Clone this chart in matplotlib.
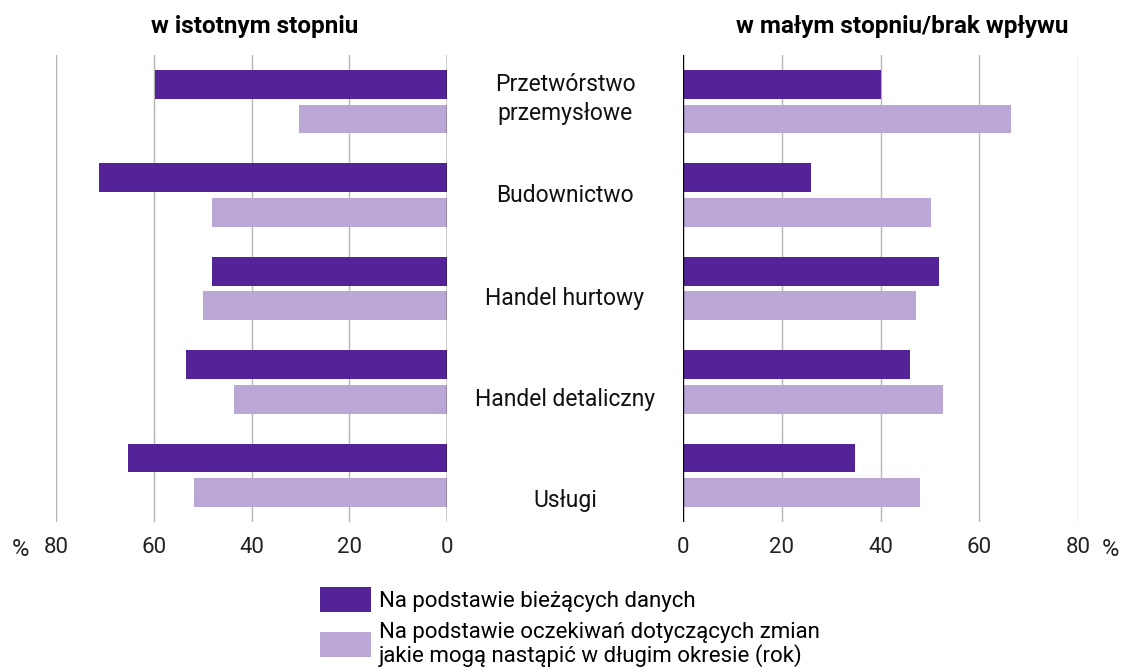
import numpy as np
import matplotlib.pyplot as plt
from matplotlib.patches import Patch

categories = ["Przetwórstwo\nprzemysłowe", "Budownictwo", "Handel hurtowy",
              "Handel detaliczny", "Usługi"]

# w istotnym stopniu
left_current = [59.7, 71.2, 48.1, 53.4, 65.2]
left_expected = [30.3, 48.1, 49.9, 43.6, 51.7]
# w małym stopniu/brak wpływu
right_current = [40.0, 25.9, 51.8, 46.0, 34.8]
right_expected = [66.4, 50.2, 47.2, 52.6, 48.0]

ticks = [0, 20, 40, 60, 80]
legend_labels = ["Na podstawie bieżących danych",
                 "Na podstawie oczekiwań dotyczących zmian\njakie mogą nastąpić w długim okresie (rok)"]

DARK = "#532397"
LIGHT = "#baa7d5"
GRID = "#b5b5b5"
FONT = "Roboto"

plt.rcParams['font.family'] = [FONT, 'DejaVu Sans']

fig = plt.figure(figsize=(11.24, 6.70), dpi=100)
bottom, height = 0.2209, 0.697
ax_l = fig.add_axes([56 / 1124, bottom, 391 / 1124, height])
ax_r = fig.add_axes([683 / 1124, bottom, 395 / 1124, height])

y = np.arange(len(categories))
bh = 0.31
off = 0.185

for ax, cur, exp in ((ax_l, left_current, left_expected), (ax_r, right_current, right_expected)):
    ax.barh(y - off, cur, height=bh, color=DARK, zorder=3)
    ax.barh(y + off, exp, height=bh, color=LIGHT, zorder=3)
    ax.set_ylim(len(categories) - 0.5, -0.5)
    ax.set_xticks(ticks)
    ax.set_xticklabels([str(t) for t in ticks], fontsize=16, color="#222222")
    ax.tick_params(axis="x", length=0, pad=11)
    ax.set_yticks([])
    for s in ax.spines.values():
        s.set_visible(False)
    for t in ticks:
        ax.axvline(t, color="black" if t == 0 else GRID, lw=1.0, zorder=1 if t else 4)

ax_l.set_xlim(80, 0)
ax_r.set_xlim(0, 80)

fig.text(20 / 1124, 1 - 549 / 670, "%", fontsize=17, ha="center", va="center", color="#222222")
fig.text(1110 / 1124, 1 - 549 / 670, "%", fontsize=17, ha="center", va="center", color="#222222")

fig.text(255 / 1124, 1 - 27 / 670, "w istotnym stopniu", fontsize=17.5, fontweight="bold",
         ha="center", va="center")
fig.text(902 / 1124, 1 - 27 / 670, "w małym stopniu/brak wpływu", fontsize=17.5, fontweight="bold",
         ha="center", va="center")

# category labels between the panels
label_y = [99, 196, 299, 400, 500]
for cat, ly in zip(categories, label_y):
    fig.text(565 / 1124, 1 - ly / 670, cat, fontsize=16.5, ha="center", va="center",
             linespacing=1.3, color="#111111")

handles = [Patch(facecolor=DARK), Patch(facecolor=LIGHT)]
leg = fig.legend(handles, legend_labels, loc="upper left", bbox_to_anchor=(300 / 1124, 1 - 567 / 670),
                 frameon=False, fontsize=16, handlelength=2.3, handleheight=1.35,
                 handletextpad=0.35, labelspacing=0.45)
for txt in leg.get_texts():
    txt.set_linespacing(1.05)

fig.savefig("out.png", dpi=100)
